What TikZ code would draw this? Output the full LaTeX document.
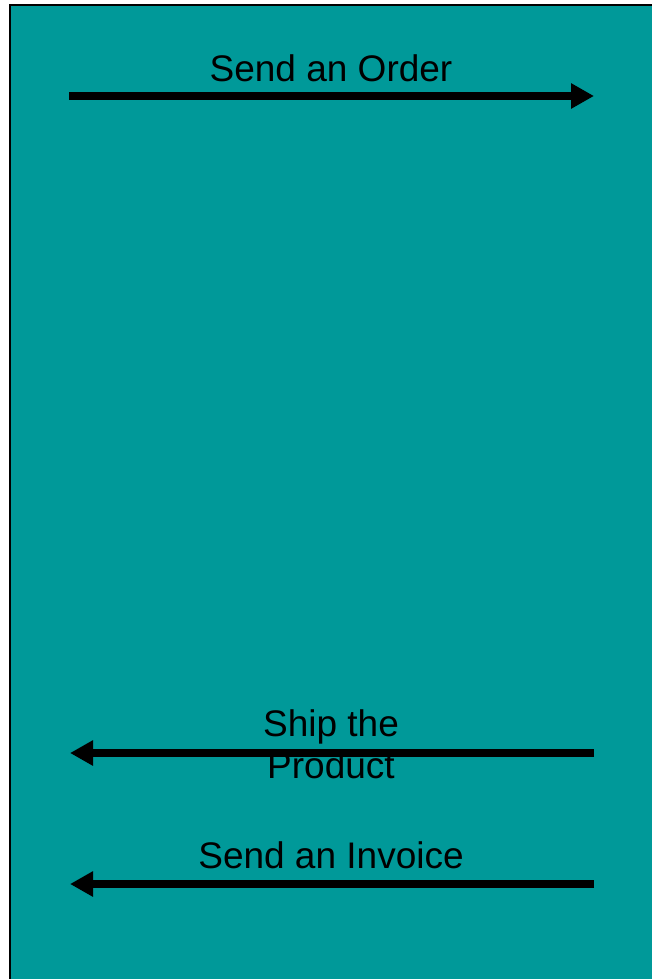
\documentclass[tikz,border=0pt]{standalone}
\usepackage{fontspec}
\setmainfont{Liberation Sans}
\usepackage{xcolor}
\usetikzlibrary{arrows.meta, positioning}
\definecolor{MainTeal}{RGB}{0,153,153}
\tikzset{
  >=latex,
  % Messaggi tra le parti
  msg/.style={line width=8pt,-{Triangle[length=23pt,width=24pt]}},
  msg label/.style={font=\fontsize{37}{42}\selectfont,align=center,inner sep=0pt}
}
\begin{document}
\begin{tikzpicture}[x=1pt,y=-1pt]
        \useasboundingbox (0,0) rectangle (652,979);
        \clip (0,0) rectangle (652,979);
        \draw[line width=2pt,fill=MainTeal] (9.5,5.5) rectangle (670,1000);
        % etichette
        \node[msg label] (order) at (331,68) {Send an Order};
        \node[msg label] (ship) at (331,744) {Ship the\\Product};
        \node[msg label] (invoice) at (331,855) {Send an Invoice};
        % estremi delle frecce
        \coordinate (order l) at (69,96);
        \coordinate (order r) at (594,96);
        \coordinate (ship l) at (70,753);
        \coordinate (ship r) at (594,753);
        \coordinate (invoice l) at (70,884);
        \coordinate (invoice r) at (594,884);
        \draw[msg] (order l)--(order r);
        \draw[msg] (ship r)--(ship l);
        \draw[msg] (invoice r)--(invoice l);
      \end{tikzpicture}
\end{document}
